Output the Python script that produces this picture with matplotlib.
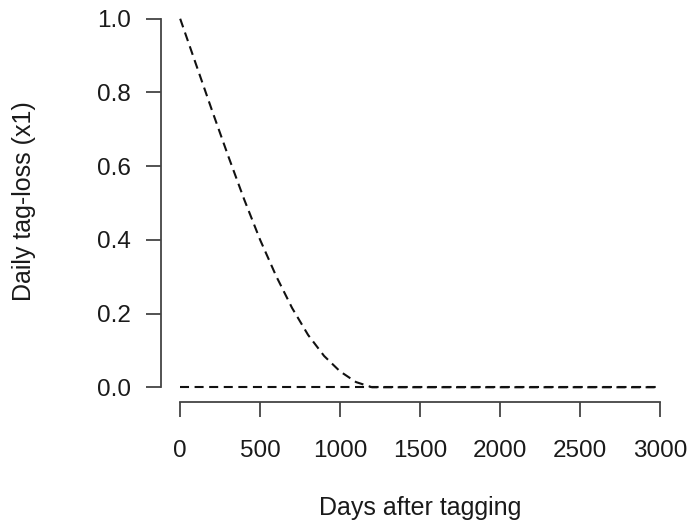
import matplotlib
matplotlib.use("Agg")
import matplotlib.pyplot as plt

# curve
days = [0, 100, 200, 300, 400, 500, 600, 700, 800, 900, 1000, 1100, 1200, 3000]
tag_loss = [1.0, 0.875, 0.75, 0.628, 0.51, 0.40, 0.302, 0.215, 0.142, 0.085, 0.043, 0.014, 0.0, 0.0]

# second (flat) series
flat_days = [0, 3000]
flat_loss = [0.0, 0.0]

x_ticks = [0, 500, 1000, 1500, 2000, 2500, 3000]
y_ticks = [0.0, 0.2, 0.4, 0.6, 0.8, 1.0]

plt.rcParams["font.family"] = ["Liberation Sans", "DejaVu Sans"]
plt.rcParams["lines.scale_dashes"] = False

axis_col = "#444444"
text_col = "#1a1a1a"
tick_fs = 17.5
label_fs = 18

fig = plt.figure(figsize=(6.92, 5.24), dpi=100)
ax = fig.add_axes([161 / 692, 1 - 402 / 524, (679 - 161) / 692, (402 - 4) / 524])

dash = (6.5, 4.0)
ax.plot(days, tag_loss, color="#111111", lw=1.5, dashes=dash)
ax.plot(flat_days, flat_loss, color="#111111", lw=1.5, dashes=dash)

ax.set_xlim(-120, 3120)
ax.set_ylim(-0.04, 1.04)
ax.set_xticks(x_ticks)
ax.set_yticks(y_ticks)
ax.set_yticklabels([f"{v:.1f}" for v in y_ticks])

for s in ["top", "right"]:
    ax.spines[s].set_visible(False)
ax.spines["bottom"].set_bounds(0, 3000)
ax.spines["left"].set_bounds(0, 1)
for s in ["bottom", "left"]:
    ax.spines[s].set_color(axis_col)
    ax.spines[s].set_linewidth(1.3)

ax.tick_params(axis="x", length=10.8, width=1.3, color=axis_col, labelsize=tick_fs,
               labelcolor=text_col, pad=16.5)
ax.tick_params(axis="y", length=10.8, width=1.3, color=axis_col, labelsize=tick_fs,
               labelcolor=text_col, pad=11)

fig.text(420 / 692, 1 - 515 / 524, "Days after tagging", ha="center", va="baseline",
         fontsize=label_fs, color=text_col)
fig.text(24.5 / 692, 1 - 201.5 / 524, "Daily tag-loss (x1)", ha="center", va="center",
         rotation=90, fontsize=label_fs, color=text_col)

fig.savefig("out.png", dpi=100)
plt.close(fig)
